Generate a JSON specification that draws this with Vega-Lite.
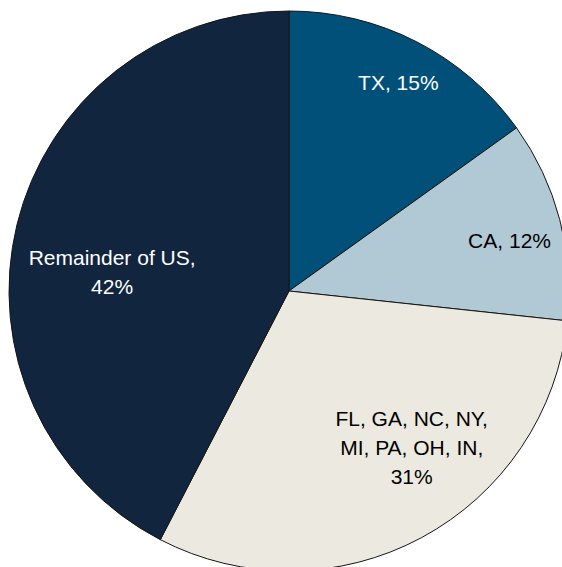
{
  "$schema": "https://vega.github.io/schema/vega-lite/v6.json",
  "width": 562,
  "height": 567,
  "autosize": "none",
  "padding": 0,
  "background": "white",
  "config": {"view": {"stroke": null}},
  "data": {
    "values": [
      {"idx": 1, "name": "TX", "value": 15.1, "label": "TX, 15%"},
      {"idx": 2, "name": "CA", "value": 11.6, "label": "CA, 12%"},
      {"idx": 3, "name": "FL", "value": 30.9, "label": "FL, GA, NC, NY,\nMI, PA, OH, IN,\n31%"},
      {"idx": 4, "name": "Remainder", "value": 42.4, "label": "Remainder of US,\n42%"}
    ]
  },
  "encoding": {
    "theta": {"field": "value", "type": "quantitative", "stack": true},
    "order": {"field": "idx", "type": "quantitative"}
  },
  "layer": [
    {
      "mark": {"type": "arc", "radius": 280, "xOffset": 8, "yOffset": 7.5, "stroke": "#151515", "strokeWidth": 1},
      "encoding": {
        "color": {
          "field": "name",
          "type": "nominal",
          "scale": {"domain": ["TX", "CA", "FL", "Remainder"], "range": ["#00507A", "#B1C9D5", "#ECEAE0", "#12253F"]},
          "legend": null
        }
      }
    },
    {
      "mark": {"type": "text", "radius": 235, "xOffset": 8, "yOffset": 7.5, "dx": 2, "dy": 2, "font": "Liberation Sans", "fontSize": 21, "fill": "white", "lineBreak": "\n", "lineHeight": 29},
      "encoding": {"text": {"condition": {"test": "datum.name === 'TX'", "field": "label"}, "value": ""}}
    },
    {
      "mark": {"type": "text", "radius": 226, "xOffset": 8, "yOffset": 7.5, "dx": 2, "dy": 9, "font": "Liberation Sans", "fontSize": 21, "fill": "black", "lineBreak": "\n", "lineHeight": 29},
      "encoding": {"text": {"condition": {"test": "datum.name === 'CA'", "field": "label"}, "value": ""}}
    },
    {
      "mark": {"type": "text", "radius": 200, "xOffset": 8, "yOffset": 7.5, "dx": 28, "dy": -47, "font": "Liberation Sans", "fontSize": 21, "fill": "black", "lineBreak": "\n", "lineHeight": 29},
      "encoding": {"text": {"condition": {"test": "datum.name === 'FL'", "field": "label"}, "value": ""}}
    },
    {
      "mark": {"type": "text", "radius": 180, "xOffset": 8, "yOffset": 7.5, "dx": -2, "dy": 11, "font": "Liberation Sans", "fontSize": 21, "fill": "white", "lineBreak": "\n", "lineHeight": 29},
      "encoding": {"text": {"condition": {"test": "datum.name === 'Remainder'", "field": "label"}, "value": ""}}
    }
  ]
}
